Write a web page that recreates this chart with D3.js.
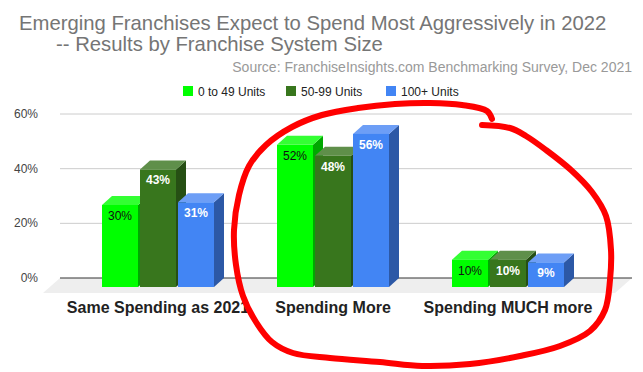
<!DOCTYPE html>
<html>
<head>
<script src="https://cdn.jsdelivr.net/npm/d3@7"></script>
<style>
  body { margin: 0; background: #fff; }
  svg { font-family: "Liberation Sans", Arial, sans-serif; }
</style>
</head>
<body>
<svg id="chart" width="643" height="372"></svg>
<script>
var categories = ["Same Spending as 2021", "Spending More", "Spending MUCH more"];
var seriesNames = ["0 to 49 Units", "50-99 Units", "100+ Units"];
var small = [30, 52, 10];
var mid = [43, 48, 10];
var large = [31, 56, 9];
var yTicks = [0, 20, 40, 60];

// front / top / side shades per series
var colors = [
  {front: "#00ff00", top: "#33ff33", side: "#00a800", label: "#111", weight: "normal"},
  {front: "#38761d", top: "#5f8f4a", side: "#264f14", label: "#fff", weight: "bold"},
  {front: "#4285f4", top: "#6d9ef6", side: "#2c58a6", label: "#fff", weight: "bold"}
];

var svg = d3.select("#chart");
var values = [small, mid, large];

var dx = 10, dy = 9;
var base = 287;
var x = d3.scaleBand().domain(categories).range([102, 564]).paddingInner(0.36);
var xs = d3.scaleBand().domain(seriesNames).range([0, x.bandwidth()]).paddingInner(2 / 38);
var yFront = d3.scaleLinear().domain([0, 60]).range([base, base - 164]);
var yBack = d3.scaleLinear().domain([0, 60]).range([base - dy, base - dy - 164]);

// floor
svg.append("polygon")
  .attr("points", [[60, yBack(0)], [632, yBack(0)], [615, yBack(0) + 15], [43, yBack(0) + 15]].join(" "))
  .attr("fill", "#eeeeee");

// gridlines
svg.selectAll("line.grid").data(yTicks).enter().append("line")
  .attr("x1", 60).attr("x2", 632)
  .attr("y1", function(d){ return yBack(d); }).attr("y2", function(d){ return yBack(d); })
  .attr("stroke", function(d){ return d === 0 ? "#333" : "#ccc"; })
  .attr("stroke-width", 1);

svg.selectAll("text.ytick").data(yTicks).enter().append("text")
  .attr("x", 38).attr("y", function(d){ return yBack(d) + 4; })
  .attr("text-anchor", "end").attr("font-size", 12).attr("fill", "#444")
  .text(function(d){ return d + "%"; });

// bars, drawn left to right so later bars cover earlier side faces
var bars = [];
categories.forEach(function(c, ci){
  seriesNames.forEach(function(s, si){
    bars.push({cat: c, ser: s, si: si, v: values[si][ci]});
  });
});

var w = xs.bandwidth();
var g = svg.selectAll("g.bar").data(bars).enter().append("g");
g.each(function(d){
  var sel = d3.select(this);
  var x0 = x(d.cat) + xs(d.ser), yt = yFront(d.v), col = colors[d.si];
  sel.append("polygon")
    .attr("points", [[x0 + w, yt], [x0 + w + dx, yt - dy], [x0 + w + dx, base - dy], [x0 + w, base]].join(" "))
    .attr("fill", col.side);
  sel.append("polygon")
    .attr("points", [[x0, yt], [x0 + dx, yt - dy], [x0 + w + dx, yt - dy], [x0 + w, yt]].join(" "))
    .attr("fill", col.top);
  sel.append("rect")
    .attr("x", x0).attr("y", yt).attr("width", w).attr("height", base - yt)
    .attr("fill", col.front);
  sel.append("text")
    .attr("x", x0 + w / 2).attr("y", yt + 15)
    .attr("text-anchor", "middle").attr("font-size", 12)
    .attr("font-weight", col.weight).attr("fill", col.label)
    .text(d.v + "%");
});

// category labels
svg.selectAll("text.cat").data(categories).enter().append("text")
  .attr("x", function(d){ return x(d) + x.bandwidth() / 2; }).attr("y", 313)
  .attr("text-anchor", "middle").attr("font-size", 16).attr("font-weight", "bold").attr("fill", "#222")
  .text(function(d){ return d; });

// titles
svg.append("text").attr("x", 19).attr("y", 30).attr("font-size", 20.3).attr("fill", "#757575")
  .text("Emerging Franchises Expect to Spend Most Aggressively in 2022");
svg.append("text").attr("x", 56).attr("y", 51).attr("font-size", 20.3).attr("fill", "#757575")
  .text("-- Results by Franchise System Size");
svg.append("text").attr("x", 632).attr("y", 72).attr("text-anchor", "end").attr("font-size", 14).attr("fill", "#999")
  .text("Source: FranchiseInsights.com Benchmarking Survey, Dec 2021");

// legend
var legX = [183, 286, 386];
var leg = svg.selectAll("g.leg").data(seriesNames).enter().append("g")
  .attr("transform", function(d, i){ return "translate(" + legX[i] + ",86)"; });
leg.append("rect").attr("width", 10).attr("height", 10)
  .attr("fill", function(d, i){ return colors[i].front; });
leg.append("text").attr("x", 15).attr("y", 10).attr("font-size", 12).attr("fill", "#222")
  .text(function(d){ return d; });

// hand-drawn red annotation
var scribbleA = [[492,119],[487,111],[462,105],[430,103],[395,104],[358,108],[322,115],[292,127],[266,145],[249,166],[239,195],[234,230],[236,265],[243,296],[256,322],[272,342],[293,353],[330,358],[380,362],[422,366],[470,364],[520,356],[560,346],[590,331],[605,310],[610,280],[611,250],[606,216],[592,192],[571,170],[546,150],[526,136],[510,128],[482,125]];
svg.append("path")
  .attr("d", d3.line().curve(d3.curveCatmullRom)(scribbleA))
  .attr("fill", "none").attr("stroke", "#ff0000").attr("stroke-width", 6)
  .attr("stroke-linecap", "round").attr("stroke-linejoin", "round");
</script>
</body>
</html>
